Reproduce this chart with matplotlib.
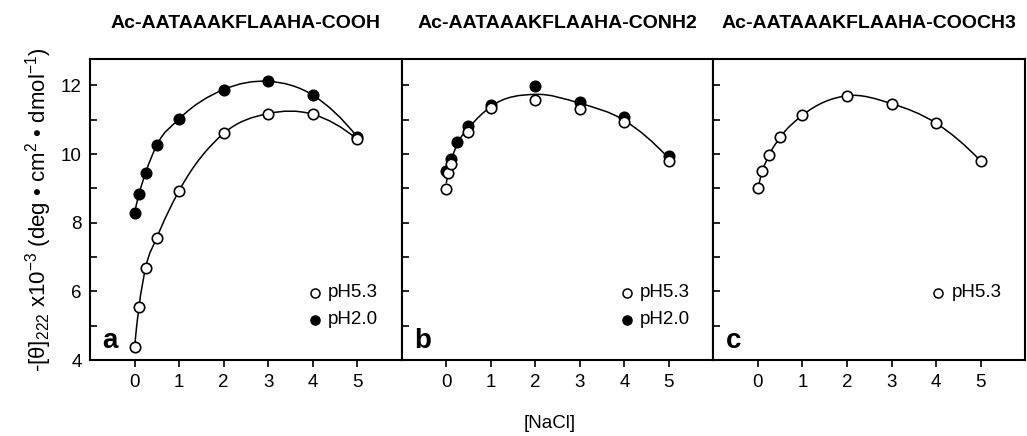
#!/usr/bin/env python3
"""Helix content of Ac-AATAAAKFLAAHA peptides versus [NaCl]."""

import matplotlib
matplotlib.use("Agg")
import matplotlib.pyplot as plt
from matplotlib.path import Path
from matplotlib.patches import PathPatch
from matplotlib.ticker import FuncFormatter, MultipleLocator

plt.rcParams['font.family'] = ['Liberation Sans', 'DejaVu Sans']
plt.rcParams['mathtext.fontset'] = 'custom'
plt.rcParams['mathtext.rm'] = 'Liberation Sans'
plt.rcParams['mathtext.it'] = 'Liberation Sans:italic'

# panel titles
titles = ["Ac-AATAAAKFLAAHA-COOH", "Ac-AATAAAKFLAAHA-CONH2", "Ac-AATAAAKFLAAHA-COOCH3"]
letters = ["a", "b", "c"]

# [NaCl] (M)
nacl = [0, 0.1, 0.25, 0.5, 1, 2, 3, 4, 5]
nacl_b_open = [0, 0.05, 0.1, 0.5, 1, 2, 3, 4, 5]

# panel a: -[theta]222 x 1e-3
a_ph53 = [4.37, 5.55, 6.69, 7.56, 8.93, 10.6, 11.18, 11.16, 10.43]
a_ph20 = [8.29, 8.83, 9.46, 10.26, 11.02, 11.88, 12.12, 11.72, 10.5]

# panel b
b_ph53 = [8.98, 9.46, 9.71, 10.63, 11.35, 11.57, 11.3, 10.92, 9.8]
b_ph20 = [9.5, 9.85, 10.36, 10.83, 11.43, 11.98, 11.52, 11.09, 9.94]
b_fit = [9.15, 9.75, 10.3, 10.75, 11.38, 11.74, 11.48, 10.98, 9.87]

# panel c
c_ph53 = [9.0, 9.5, 9.97, 10.49, 11.13, 11.7, 11.47, 10.9, 9.8]


def smooth_path(xs, ys):
    """Cubic Hermite curve through the points, as a Bezier path."""
    n = len(xs)
    h = [xs[i + 1] - xs[i] for i in range(n - 1)]
    d = [(ys[i + 1] - ys[i]) / h[i] for i in range(n - 1)]
    m = [0.0] * n
    for i in range(1, n - 1):
        m[i] = (h[i - 1] * d[i] + h[i] * d[i - 1]) / (h[i - 1] + h[i])
    m[0] = 2 * d[0] - m[1]
    m[-1] = 2 * d[-1] - m[-2]
    verts = [(xs[0], ys[0])]
    codes = [Path.MOVETO]
    for i in range(n - 1):
        verts.append((xs[i] + h[i] / 3, ys[i] + m[i] * h[i] / 3))
        verts.append((xs[i + 1] - h[i] / 3, ys[i + 1] - m[i + 1] * h[i] / 3))
        verts.append((xs[i + 1], ys[i + 1]))
        codes += [Path.CURVE4] * 3
    return Path(verts, codes)


def add_curve(ax, xs, ys):
    ax.add_patch(PathPatch(smooth_path(xs, ys), fill=False, edgecolor='black',
                           linewidth=1.1, zorder=2))


fig = plt.figure(figsize=(10.27, 4.36), dpi=100)
left, bottom, width, height = 90 / 1027, 1 - 360 / 436, 311.7 / 1027, 301 / 436
axes = [fig.add_axes([left + i * width, bottom, width, height]) for i in range(3)]

open_kw = dict(linestyle='none', marker='o', ms=7.5, mfc='white', mec='black', mew=1.2, zorder=4)
fill_kw = dict(linestyle='none', marker='o', ms=7.5, mfc='black', mec='black', mew=1.2, zorder=3)

# panel a
ax = axes[0]
add_curve(ax, nacl, a_ph20)
add_curve(ax, nacl, a_ph53)
ax.plot(nacl, a_ph20, **fill_kw)
ax.plot(nacl, a_ph53, **open_kw)

# panel b
ax = axes[1]
add_curve(ax, nacl, b_fit)
ax.plot(nacl, b_ph20, **fill_kw)
ax.plot(nacl_b_open, b_ph53, **open_kw)

# panel c
ax = axes[2]
add_curve(ax, nacl, c_ph53)
ax.plot(nacl, c_ph53, **open_kw)

for i, ax in enumerate(axes):
    ax.set_xlim(-1, 6)
    ax.set_ylim(4, 12.77)
    ax.set_xticks(range(6))
    ax.yaxis.set_major_locator(MultipleLocator(1))
    ax.tick_params(axis='x', direction='out', length=5, width=1.2, labelsize=13.5, pad=5)
    ax.tick_params(axis='y', direction='in', length=5, width=1.2, labelsize=13.5, pad=6)
    for sp in ax.spines.values():
        sp.set_linewidth(1.5)
    if i == 0:
        ax.yaxis.set_major_formatter(FuncFormatter(lambda v, p: f"{v:.0f}" if v % 2 == 0 else ""))
    else:
        ax.set_yticklabels([])
    ax.text(-0.72, 4.35, letters[i], fontsize=20, fontweight='bold', ha='left', va='baseline')
    fig.text(left + (i + 0.5) * width, 1 - 24 / 436, titles[i], fontsize=14,
             fontweight='bold', ha='center', va='center')

    # in-plot legend
    ax.plot([4.05], [5.96], linestyle='none', marker='o', ms=6.5, mfc='white', mec='black', mew=1.1)
    ax.text(4.35, 5.96, "pH5.3", fontsize=13.5, ha='left', va='center')
    if i < 2:
        ax.plot([4.05], [5.17], linestyle='none', marker='o', ms=6.5, mfc='black', mec='black', mew=1.1)
        ax.text(4.35, 5.17, "pH2.0", fontsize=13.5, ha='left', va='center')

axes[0].set_ylabel('-[θ]$_{222}$ x10$^{-3}$ (deg • cm$^{2}$ • dmol$^{-1}$)',
                   fontsize=16, labelpad=5)
fig.text(0.535, 1 - 423 / 436, "[NaCl]", fontsize=13.5, ha='center', va='center')

fig.savefig("out.png", dpi=100)
